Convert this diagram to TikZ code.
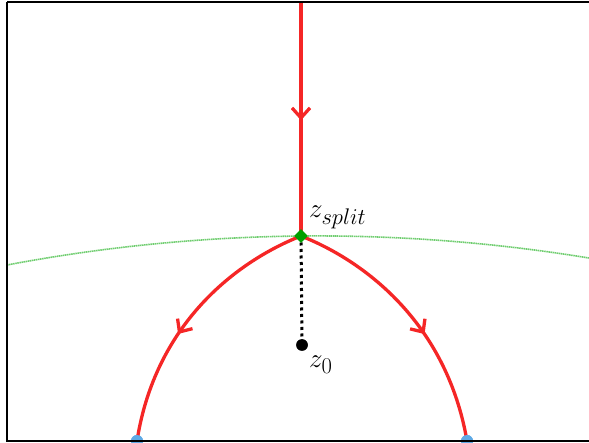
\documentclass[tikz,border=0pt]{standalone}
\usetikzlibrary{arrows.meta,decorations.markings,shapes.geometric}
\definecolor{flowred}{RGB}{245,38,38}
\definecolor{splitgreen}{RGB}{0,160,0}
\definecolor{circgreen}{RGB}{110,205,110}
\definecolor{endblue}{RGB}{95,170,230}
\tikzset{
  flow/.style={flowred, line width=3.3pt},
  flowarrow/.style={decoration={markings, mark=at position #1 with {\arrow{Straight Barb[length=10pt,width=18pt]}}}, postaction={decorate}},
  enddot/.style={circle, fill=endblue, inner sep=0pt, minimum size=12pt},
  ptlabel/.style={anchor=base west, inner sep=0pt, font=\Huge, scale=1.09},
}
\begin{document}
\begin{tikzpicture}[x=1pt, y=-1pt]
    \useasboundingbox (0,0) rectangle (589,443);

    % Points
    \coordinate (top) at (301,0);
    \coordinate (split) at (301,236);
    \node[circle, fill=black, inner sep=0pt, minimum size=11.5pt] (z0) at (302,345) {};
    \node[enddot] (endL) at (137,441) {};
    \node[enddot] (endR) at (467,441) {};

    \begin{scope}
    \clip (7,2) rectangle (600,441);
    % Green circle
    \draw[circgreen, line width=1.6pt, dash pattern=on 1.5pt off 0.6pt] (7,265) arc[start angle=100.69, end angle=80.69, radius=1675.7pt];

    % Red paths
    \draw[flow, flowarrow=0.51] (top) -- (split);
    \draw[flow, flowarrow=0.58] (split) .. controls (235,262) and (155,325) .. (endL.center);
    \draw[flow, flowarrow=0.58] (split) .. controls (367,262) and (447,325) .. (endR.center);

    % Dotted line to z0
    \draw[black, line width=3pt, dash pattern=on 3pt off 3.5pt] (split) -- (z0);
    \node[circle, fill=black, inner sep=0pt, minimum size=11.5pt] at (z0) {};
    \end{scope}
    \node[enddot] at (endL) {};
    \node[enddot] at (endR) {};

    % Split point
    \node[diamond, fill=splitgreen, inner sep=0pt, minimum size=14pt] (splitmark) at (split) {};

    % Labels
    \node[ptlabel] (splitlabel) at (309,218) {$z_{split}$};
    \node[ptlabel] (z0label) at (309,368) {$z_0$};

    % Frame
    \draw[black, line width=1.7pt] (7,2) -- (600,2) (7,2) -- (7,441) -- (600,441);
\end{tikzpicture}
\end{document}
